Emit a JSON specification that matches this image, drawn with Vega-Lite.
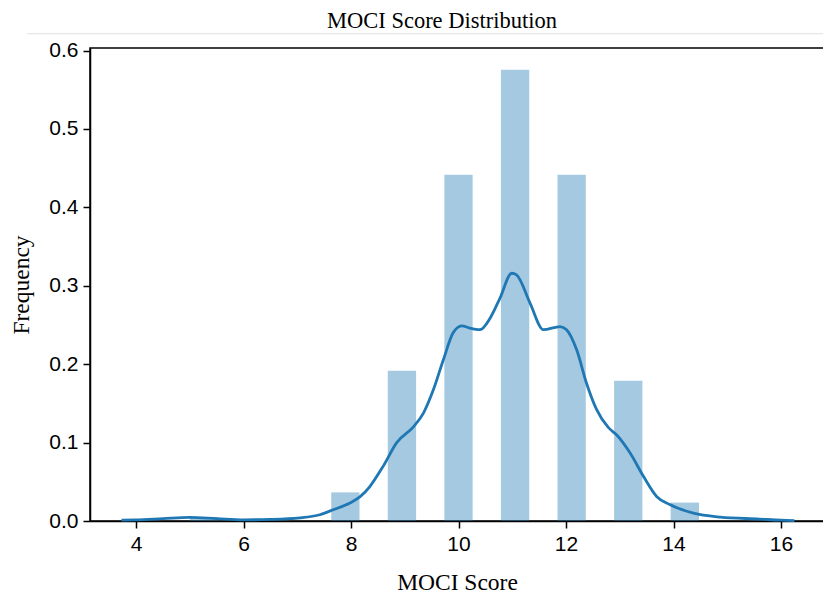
{
  "$schema": "https://vega.github.io/schema/vega-lite/v6.json",
  "autosize": {"type": "none"},
  "padding": {"left": 90, "top": 48, "right": 0, "bottom": 73},
  "width": 736,
  "height": 473,
  "background": "white",
  "title": {
    "text": "MOCI Score Distribution",
    "font": "Liberation Serif",
    "fontSize": 22.5,
    "fontWeight": "normal",
    "color": "black",
    "anchor": "middle",
    "dx": -16,
    "offset": 1
  },
  "config": {
    "view": {"stroke": "black", "strokeWidth": 1.5},
    "axis": {
      "grid": false,
      "domainColor": "black",
      "domainWidth": 1.5,
      "tickColor": "black",
      "tickWidth": 1.5,
      "tickSize": 7,
      "labelFont": "Liberation Sans",
      "labelFontSize": 21,
      "labelColor": "black",
      "titleFont": "Liberation Serif",
      "titleFontSize": 23.5,
      "titleFontWeight": "normal",
      "titleColor": "black"
    }
  },
  "datasets": {
    "bars": [
      {"start": 5.0, "end": 5.526, "density": 0.005},
      {"start": 7.632, "end": 8.158, "density": 0.0365},
      {"start": 8.684, "end": 9.211, "density": 0.1917},
      {"start": 9.737, "end": 10.263, "density": 0.4417},
      {"start": 10.789, "end": 11.316, "density": 0.5757},
      {"start": 11.842, "end": 12.368, "density": 0.4417},
      {"start": 12.895, "end": 13.421, "density": 0.179},
      {"start": 13.947, "end": 14.474, "density": 0.0235}
    ],
    "kde": [
      {"x": 3.73, "y": 0.001},
      {"x": 4.0, "y": 0.0015},
      {"x": 4.5, "y": 0.003},
      {"x": 5.0, "y": 0.0045},
      {"x": 5.5, "y": 0.003},
      {"x": 6.0, "y": 0.0015},
      {"x": 6.5, "y": 0.002},
      {"x": 7.05, "y": 0.004},
      {"x": 7.42, "y": 0.008},
      {"x": 7.67, "y": 0.0144},
      {"x": 7.98, "y": 0.023},
      {"x": 8.17, "y": 0.031},
      {"x": 8.35, "y": 0.044},
      {"x": 8.6, "y": 0.07},
      {"x": 8.85, "y": 0.1},
      {"x": 9.16, "y": 0.12},
      {"x": 9.35, "y": 0.138},
      {"x": 9.53, "y": 0.167},
      {"x": 9.72, "y": 0.206},
      {"x": 9.9, "y": 0.24},
      {"x": 10.06, "y": 0.249},
      {"x": 10.21, "y": 0.246},
      {"x": 10.4, "y": 0.244},
      {"x": 10.59, "y": 0.259},
      {"x": 10.77, "y": 0.284},
      {"x": 10.99, "y": 0.316},
      {"x": 11.08, "y": 0.314},
      {"x": 11.33, "y": 0.278},
      {"x": 11.58, "y": 0.244},
      {"x": 11.89, "y": 0.248},
      {"x": 12.01, "y": 0.244},
      {"x": 12.2, "y": 0.218},
      {"x": 12.38, "y": 0.176},
      {"x": 12.57, "y": 0.142},
      {"x": 12.79, "y": 0.119},
      {"x": 12.94, "y": 0.11},
      {"x": 13.19, "y": 0.087},
      {"x": 13.44, "y": 0.057},
      {"x": 13.69, "y": 0.031},
      {"x": 13.93, "y": 0.021},
      {"x": 14.37, "y": 0.01},
      {"x": 14.87, "y": 0.005},
      {"x": 15.6, "y": 0.0025},
      {"x": 16.0, "y": 0.001},
      {"x": 16.25, "y": 0.0005}
    ],
    "sep": [
      {"x": 1.97, "x2": 16.837, "y": 0.6215}
    ]
  },
  "layer": [
    {
      "data": {"name": "sep"},
      "mark": {"type": "rule", "color": "#e0e0e0", "strokeWidth": 1, "clip": false},
      "encoding": {
        "x": {"field": "x", "type": "quantitative", "scale": {"domain": [3.144, 16.837], "nice": false, "zero": false}},
        "x2": {"field": "x2"},
        "y": {"field": "y", "type": "quantitative"}
      }
    },
    {
      "data": {"name": "bars"},
      "mark": {"type": "rect", "color": "#1f77b4", "opacity": 0.4},
      "encoding": {
        "x": {
          "field": "start",
          "type": "quantitative",
          "scale": {"domain": [3.144, 16.837], "nice": false, "zero": false},
          "axis": {"values": [4, 6, 8, 10, 12, 14, 16], "title": "MOCI Score", "labelPadding": 5, "titlePadding": 16, "titleX": 367}
        },
        "x2": {"field": "end"},
        "y": {
          "field": "density",
          "type": "quantitative",
          "scale": {"domain": [0, 0.6033], "nice": false},
          "axis": {"values": [0, 0.1, 0.2, 0.3, 0.4, 0.5, 0.6], "format": ".1f", "title": "Frequency", "labelPadding": 5, "titlePadding": 15}
        },
        "y2": {"datum": 0}
      }
    },
    {
      "data": {"name": "kde"},
      "mark": {"type": "line", "color": "#1f77b4", "strokeWidth": 2.8, "interpolate": "monotone"},
      "encoding": {
        "x": {"field": "x", "type": "quantitative"},
        "y": {"field": "y", "type": "quantitative"}
      }
    }
  ]
}
